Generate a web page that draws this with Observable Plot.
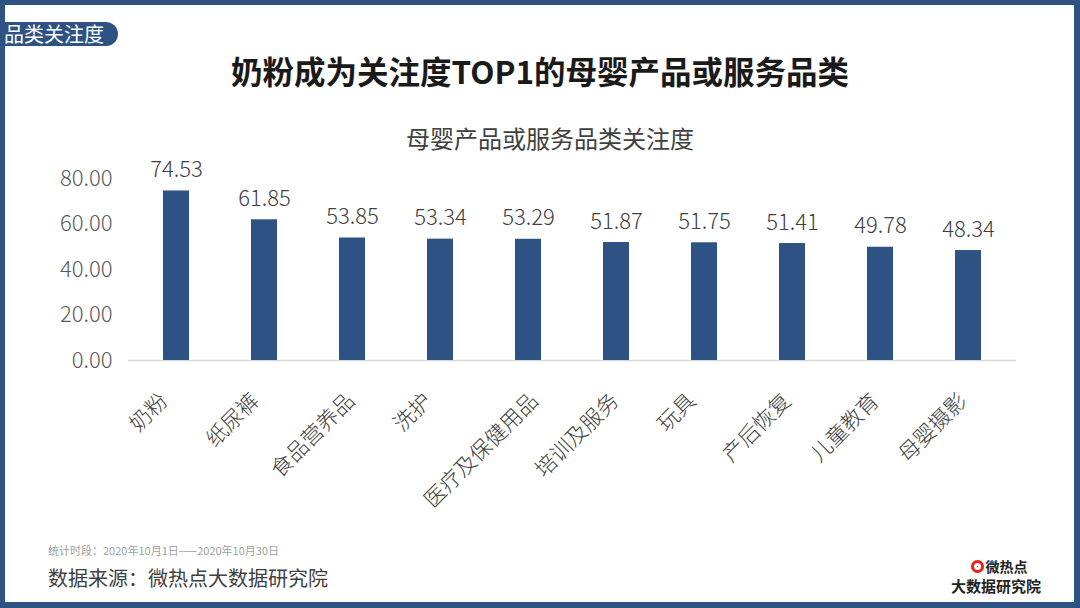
<!DOCTYPE html>
<html>
<head>
<meta charset="utf-8">
<script src="https://cdn.jsdelivr.net/npm/d3@7"></script>
<script src="https://cdn.jsdelivr.net/npm/@observablehq/plot@0.6"></script>
<style>
  html, body { margin: 0; padding: 0; background: #fff; }
  body { width: 1080px; height: 608px; overflow: hidden; position: relative; font-family: "Noto Sans CJK SC", "Noto Sans", sans-serif; }
  #frame { position: absolute; left: 0; top: 0; width: 1080px; height: 608px; box-sizing: border-box;
           border-style: solid; border-color: #2e5283; border-width: 5px 6px 6px 5px; }
  #tag { position: absolute; left: 0; top: 22px; height: 24px; width: 118px; background: #2e5283; color: #fff;
         font-size: 20px; line-height: 24px; border-radius: 0 12px 12px 0; padding-left: 4px; box-sizing: border-box; white-space: nowrap; }
  #title { position: absolute; left: 0; width: 1080px; top: 47px; text-align: center; font-size: 31.5px; font-weight: bold; color: #1a1a1a; }
  #subtitle { position: absolute; left: 0; width: 1100px; top: 120px; text-align: center; font-size: 24px; color: #404040; }
  #chart { position: absolute; left: 0; top: 140px; }
  #period { position: absolute; left: 48px; top: 542px; font-size: 11px; color: #a0a0a0; }
  #source { position: absolute; left: 48px; top: 563px; font-size: 20px; color: #404040; }
  #logo { position: absolute; left: 946px; top: 557px; width: 100px; text-align: center; color: #222; font-weight: bold; }
  #logo .l1 { font-size: 14px; line-height: 19px; height: 19px; padding-left: 6px; }
  #logo .l2 { font-size: 15px; line-height: 19px; height: 19px; }
  #logo .eye { display: inline-block; width: 13px; height: 13px; border-radius: 50%; background: #e8231e; vertical-align: -1px; margin-right: 2px; box-shadow: inset 0 0 0 3px #e8231e, inset 0 0 0 6px #fff; }
</style>
</head>
<body>
<div id="frame"></div>
<div id="tag">品类关注度</div>
<div id="title">奶粉成为关注度TOP1的母婴产品或服务品类</div>
<div id="subtitle">母婴产品或服务品类关注度</div>
<div id="chart"></div>
<div id="period">统计时段：2020年10月1日——2020年10月30日</div>
<div id="source">数据来源：微热点大数据研究院</div>
<div id="logo"><div class="l1"><span class="eye"></span>微热点</div><div class="l2">大数据研究院</div></div>
<script>
const categories = ["奶粉", "纸尿裤", "食品营养品", "洗护", "医疗及保健用品", "培训及服务", "玩具", "产后恢复", "儿童教育", "母婴摄影"];
const values = [74.53, 61.85, 53.85, 53.34, 53.29, 51.87, 51.75, 51.41, 49.78, 48.34];
const yTicks = [0, 20, 40, 60, 80];

const data = categories.map((c, i) => ({category: c, value: values[i]}));
const lengths = [...new Set(categories.map(c => c.length))];

const chart = Plot.plot({
  width: 1080,
  height: 380,
  marginTop: 38,
  marginBottom: 160,
  marginLeft: 128,
  marginRight: 64,
  style: {fontFamily: "'Noto Sans CJK SC', sans-serif", color: "#595959", background: "transparent"},
  x: {domain: categories, paddingInner: 0.7, paddingOuter: 0.35, axis: null},
  y: {domain: [0, 80], label: null},
  marks: [
    Plot.axisY({ticks: yTicks, tickSize: 0, tickPadding: 16, fontSize: 22, fontWeight: 300, tickFormat: d => d.toFixed(2), fill: "#595959"}),
    ...lengths.map(n => Plot.text(data.filter(d => d.category.length === n), {
      x: "category", y: () => 0, text: "category", rotate: -45, textAnchor: "end", lineAnchor: "middle",
      dx: -12.5 + 3.7 * (n - 2), dy: 37, fontSize: 21.5, fontWeight: 300, fill: "#404040"
    })),
    Plot.ruleY([0], {stroke: "#d9d9d9", strokeWidth: 1.5}),
    Plot.barY(data, {x: "category", y: "value", fill: "#2e5283"}),
    Plot.text(data, {x: "category", y: "value", text: d => d.value.toFixed(2), dy: -21, fontSize: 22, fontWeight: 300, fill: "#404040"})
  ]
});
document.getElementById("chart").appendChild(chart);
</script>
</body>
</html>
